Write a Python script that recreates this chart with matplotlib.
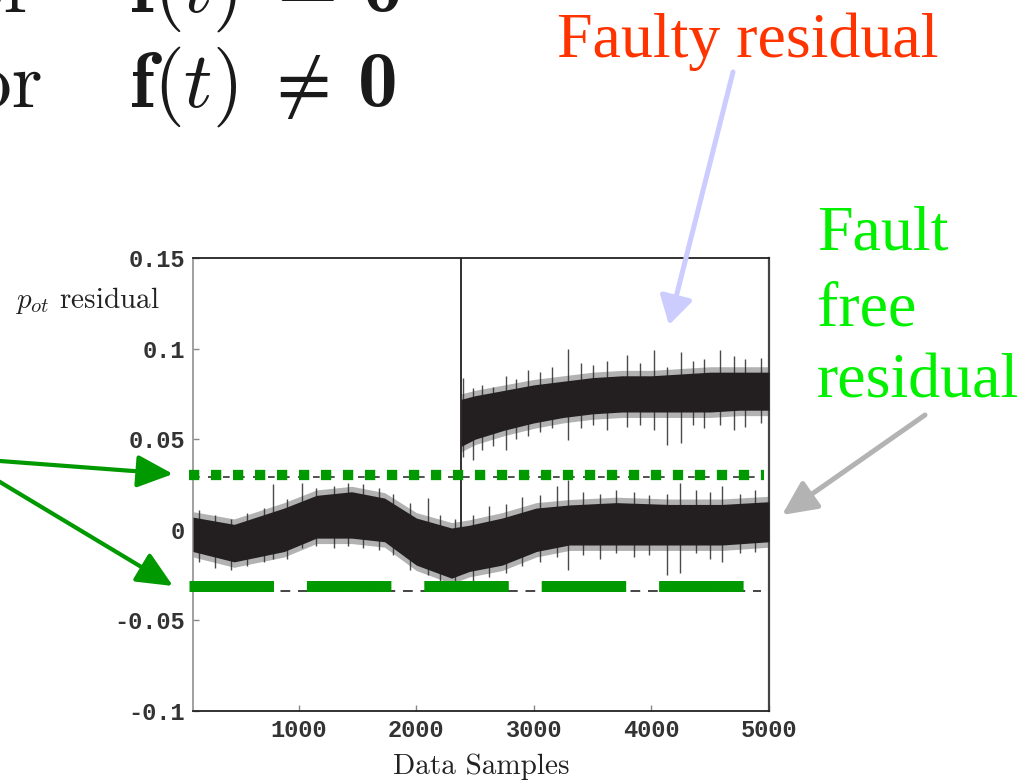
import numpy as np
import matplotlib
matplotlib.use("Agg")
import matplotlib.pyplot as plt
from matplotlib.patches import FancyArrowPatch, ArrowStyle

# fault-free residual: dense core envelope
ff_x = [100, 450, 875, 1150, 1450, 1730, 2000, 2300, 2450, 2730, 3020, 3300, 3700, 4150, 4600, 5000]
ff_hi = [0.007, 0.003, 0.012, 0.019, 0.021, 0.0175, 0.0065, 0.001, 0.0025, 0.0065, 0.012, 0.0137, 0.015, 0.014, 0.014, 0.0155]
ff_lo = [-0.012, -0.0177, -0.012, -0.0046, -0.0046, -0.0066, -0.0195, -0.0267, -0.023, -0.0195, -0.012, -0.0084, -0.0084, -0.0084, -0.0084, -0.0066]

# spikes of the fault-free residual (x, low, high)
ff_spike_x = [150, 290, 420, 560, 700, 780, 900, 1030, 1150, 1300, 1420, 1550, 1680, 1800,
              1950, 2095, 2200, 2330, 2480, 2620, 2760, 2900, 3050, 3200, 3290, 3420, 3560,
              3700, 3850, 3980, 4130, 4240, 4380, 4500, 4600, 4750, 4880]
ff_spike_lo = [-0.018, -0.021, -0.022, -0.020, -0.018, -0.016, -0.016, -0.010, -0.009, -0.010,
               -0.009, -0.010, -0.011, -0.014, -0.022, -0.025, -0.028, -0.030, -0.028, -0.026,
               -0.024, -0.020, -0.018, -0.015, -0.022, -0.014, -0.016, -0.013, -0.015, -0.014,
               -0.025, -0.024, -0.013, -0.016, -0.018, -0.013, -0.012]
ff_spike_hi = [0.011, 0.008, 0.006, 0.009, 0.012, 0.025, 0.017, 0.026, 0.023, 0.024, 0.026,
               0.025, 0.023, 0.020, 0.015, 0.0175, 0.008, 0.006, 0.008, 0.013, 0.014, 0.018,
               0.019, 0.024, 0.0275, 0.021, 0.020, 0.022, 0.021, 0.019, 0.020, 0.026, 0.022,
               0.021, 0.024, 0.020, 0.022]

# faulty residual after the step
fy_x = [2380, 2500, 2750, 3000, 3250, 3500, 3750, 4000, 4250, 4500, 4750, 5000]
fy_hi = [0.072, 0.074, 0.077, 0.080, 0.082, 0.084, 0.085, 0.085, 0.086, 0.087, 0.087, 0.087]
fy_lo = [0.046, 0.050, 0.055, 0.059, 0.062, 0.064, 0.065, 0.065, 0.065, 0.065, 0.066, 0.066]

fy_spike_x = [2400, 2480, 2560, 2650, 2760, 2850, 2950, 3050, 3150, 3290, 3400, 3500, 3620,
              3790, 3900, 4025, 4130, 4255, 4350, 4450, 4580, 4700, 4800, 4930]
fy_spike_lo = [0.040, 0.0385, 0.044, 0.046, 0.044, 0.050, 0.052, 0.054, 0.056, 0.0496, 0.056,
               0.058, 0.055, 0.057, 0.058, 0.055, 0.0468, 0.048, 0.058, 0.056, 0.058, 0.055,
               0.057, 0.059]
fy_spike_hi = [0.0838, 0.078, 0.080, 0.079, 0.085, 0.083, 0.088, 0.087, 0.090, 0.100, 0.092,
               0.091, 0.093, 0.0965, 0.092, 0.099, 0.090, 0.098, 0.093, 0.094, 0.099, 0.096,
               0.094, 0.095]

step_x = 2380
step_lo, step_hi = -0.003, 0.15

# thresholds
thr_hi = 0.029
thr_lo = -0.0338
green_hi = 0.0302
green_lo = -0.0312

yticks = [-0.1, -0.05, 0, 0.05, 0.1, 0.15]
ytick_labels = ["-0.1", "-0.05", "0", "0.05", "0.1", "0.15"]
xticks = [1000, 2000, 3000, 4000, 5000]

W, H = 1023, 780
plt.rcParams["mathtext.fontset"] = "cm"

fig = plt.figure(figsize=(W / 100, H / 100), dpi=100)
ax = fig.add_axes([193 / W, 1 - 711 / H, (769 - 193) / W, (711 - 258) / H])
ax.set_xlim(100, 5000)
ax.set_ylim(-0.1, 0.15)

DARK = "#231f20"

# thin black threshold lines
ax.plot([100, 4930], [thr_hi, thr_hi], color="#333333", lw=1.2, ls=(0, (4, 5)), zorder=1)
ax.plot([100, 4930], [thr_lo, thr_lo], color="#444444", lw=1.4, ls=(0, (5, 4)), zorder=1)

# fault-free residual band (spikes sit under the dense core)
ff_x_a = np.array(ff_x)
ax.fill_between(ff_x_a, np.array(ff_lo) - 0.003, np.array(ff_hi) + 0.003,
                color="#555555", alpha=0.45, lw=0, zorder=2)
ax.vlines(ff_spike_x, ff_spike_lo, ff_spike_hi, color="#2a2a2a", lw=1.0, alpha=0.85, zorder=2.5)
ax.fill_between(ff_x_a, ff_lo, ff_hi, color=DARK, lw=0, zorder=3)

# faulty residual band
fy_x_a = np.array(fy_x)
ax.fill_between(fy_x_a, np.array(fy_lo) - 0.003, np.array(fy_hi) + 0.003,
                color="#555555", alpha=0.45, lw=0, zorder=2)
ax.vlines(fy_spike_x, fy_spike_lo, fy_spike_hi, color="#2a2a2a", lw=1.0, alpha=0.85, zorder=2.5)
ax.fill_between(fy_x_a, fy_lo, fy_hi, color=DARK, lw=0, zorder=3)
ax.vlines([step_x], [step_lo], [step_hi], color=DARK, lw=1.3, zorder=3)

# green highlighted thresholds
ax.plot([68, 4960], [green_hi, green_hi], color="#009900", lw=7.4,
        ls=(0, (1.0, 1.14)), solid_capstyle="butt", dash_capstyle="butt",
        clip_on=False, zorder=5)
ax.plot([68, 4805], [green_lo, green_lo], color="#009900", lw=7.9,
        ls=(0, (7.7, 3.0)), solid_capstyle="butt", dash_capstyle="butt",
        clip_on=False, zorder=5)

# axes styling
ax.set_yticks(yticks)
ax.set_yticklabels(ytick_labels)
ax.set_xticks(xticks)
ax.tick_params(direction="in", length=4, width=1, color="#888888", pad=6)
for lab in ax.get_xticklabels() + ax.get_yticklabels():
    lab.set_fontfamily("Liberation Mono")
    lab.set_fontweight("bold")
    lab.set_fontsize(17)
    lab.set_color("#333333")
ax.spines["left"].set_color("#999999")
ax.spines["left"].set_linewidth(1.3)
ax.spines["bottom"].set_color("#222222")
ax.spines["bottom"].set_linewidth(1.3)
ax.spines["top"].set_color("#222222")
ax.spines["top"].set_linewidth(1.3)
ax.spines["right"].set_color("#444444")
ax.spines["right"].set_linewidth(1.6)

ax.set_xlabel("Data Samples", fontfamily="cmr10", fontsize=21, color="#222222", labelpad=8)
fig.text(15 / W, 1 - 308 / H, r"$p_{ot}$ residual", fontfamily="cmr10", fontsize=21,
         color="#222222", ha="left", va="baseline")


def fp(x, y):
    return (x / W, 1 - y / H)


# clipped formula lines at the top-left (cut off by the slide edge in the original)
INK = "#1a1a1a"
fig.text(*fp(35, 12), "for", fontfamily="cmr10", fontsize=57, color=INK,
         ha="right", va="baseline")
fig.text(*fp(129, 12), r"$\mathbf{f}(t)\;=$", fontsize=57, color=INK,
         ha="left", va="baseline")
fig.text(*fp(363, 12), "0", fontfamily="cmb10", fontsize=57, color=INK,
         ha="left", va="baseline")
fig.text(*fp(43, 107), "for", fontfamily="cmr10", fontsize=57, color=INK,
         ha="right", va="baseline")
fig.text(*fp(129, 107), r"$\mathbf{f}(t)\;\neq$", fontsize=57, color=INK,
         ha="left", va="baseline")
fig.text(*fp(358, 107), "0", fontfamily="cmb10", fontsize=57, color=INK,
         ha="left", va="baseline")

# annotation texts
fig.text(*fp(557, 57), "Faulty residual", fontfamily="Liberation Serif", fontsize=46,
         color="#ff3300", ha="left", va="baseline")
for word, yb in zip(["Fault", "free", "residual"], [250, 325, 398]):
    fig.text(*fp(817, yb), word, fontfamily="Liberation Serif", fontsize=46,
             color="#00f000", ha="left", va="baseline")


def arrow(p0, p1, color, lw, hl, hw):
    a = FancyArrowPatch(fp(*p0), fp(*p1), transform=fig.transFigure,
                        arrowstyle=ArrowStyle("-|>", head_length=hl, head_width=hw),
                        mutation_scale=1, color=color, lw=lw,
                        shrinkA=0, shrinkB=0, zorder=10)
    fig.add_artist(a)


arrow((733, 72), (669, 325), "#ccccff", 3.6, 17, 10)
arrow((925, 415), (782, 515), "#b3b3b3", 3.6, 21, 10)
arrow((-40, 458), (173, 474), "#009900", 3.0, 22, 10)
arrow((-40, 458), (173, 586), "#009900", 3.0, 22, 10)

fig.savefig("out.png", dpi=100)
